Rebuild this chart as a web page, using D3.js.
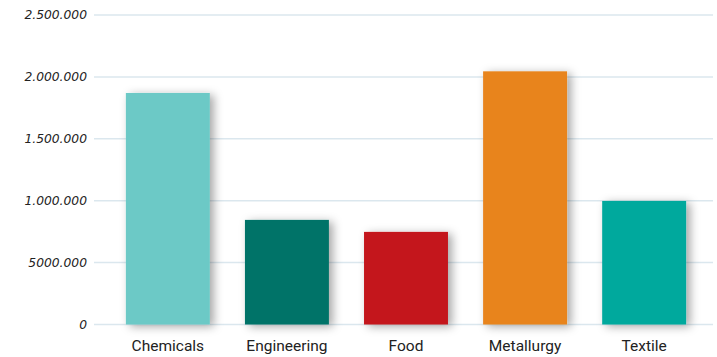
<!DOCTYPE html>
<html><head><meta charset="utf-8">
<script src="https://cdn.jsdelivr.net/npm/d3@7"></script>
<style>body{margin:0;background:#fff}svg{display:block}</style>
</head><body>
<script>
const categories = ["Chemicals","Engineering","Food","Metallurgy","Textile"];
const values = [1870000, 845000, 748000, 2045000, 998000];
const colors = ["#6cc9c6","#007367","#c4161c","#e8841c","#00a99d"];
const tickValues = [0, 500000, 1000000, 1500000, 2000000, 2500000];
const tickLabels = ["0","5000.000","1.000.000","1.500.000","2.000.000","2.500.000"];

const W=717,H=357;
const svg=d3.select("body").append("svg").attr("width",W).attr("height",H);
const defs=svg.append("defs");
const f=defs.append("filter").attr("id","sh").attr("x","-30%").attr("y","-30%").attr("width","170%").attr("height","170%");
f.append("feDropShadow").attr("dx",4).attr("dy",2).attr("stdDeviation",5).attr("flood-color","#000").attr("flood-opacity",0.35);

const y=d3.scaleLinear().domain([0,2500000]).range([324.5,15]);
const x=d3.scaleBand().domain(categories).range([108,704]).paddingInner(0.295).paddingOuter(0.15);

const gl=svg.append("g");
tickValues.forEach((v,i)=>{
  gl.append("line").attr("x1",94).attr("x2",713).attr("y1",y(v)).attr("y2",y(v))
    .attr("stroke","#dbe7ee").attr("stroke-width",1.5);
  gl.append("text").attr("x",87).attr("y",y(v)).attr("dy","0.35em").attr("text-anchor","end")
    .attr("font-family","DejaVu Sans, sans-serif").attr("font-style","italic").attr("font-size",12.3)
    .attr("fill","#222").text(tickLabels[i]);
});

svg.append("g").selectAll("rect").data(categories).join("rect")
  .attr("x",d=>x(d)).attr("width",x.bandwidth())
  .attr("y",(d,i)=>y(values[i])).attr("height",(d,i)=>y(0)-y(values[i]))
  .attr("fill",(d,i)=>colors[i]).attr("filter","url(#sh)");

svg.append("g").selectAll("text").data(categories).join("text")
  .attr("x",d=>x(d)+x.bandwidth()/2).attr("y",351).attr("text-anchor","middle")
  .attr("font-family","Roboto, sans-serif").attr("font-size",15.5).attr("fill","#222")
  .text(d=>d);
</script>
</body></html>
